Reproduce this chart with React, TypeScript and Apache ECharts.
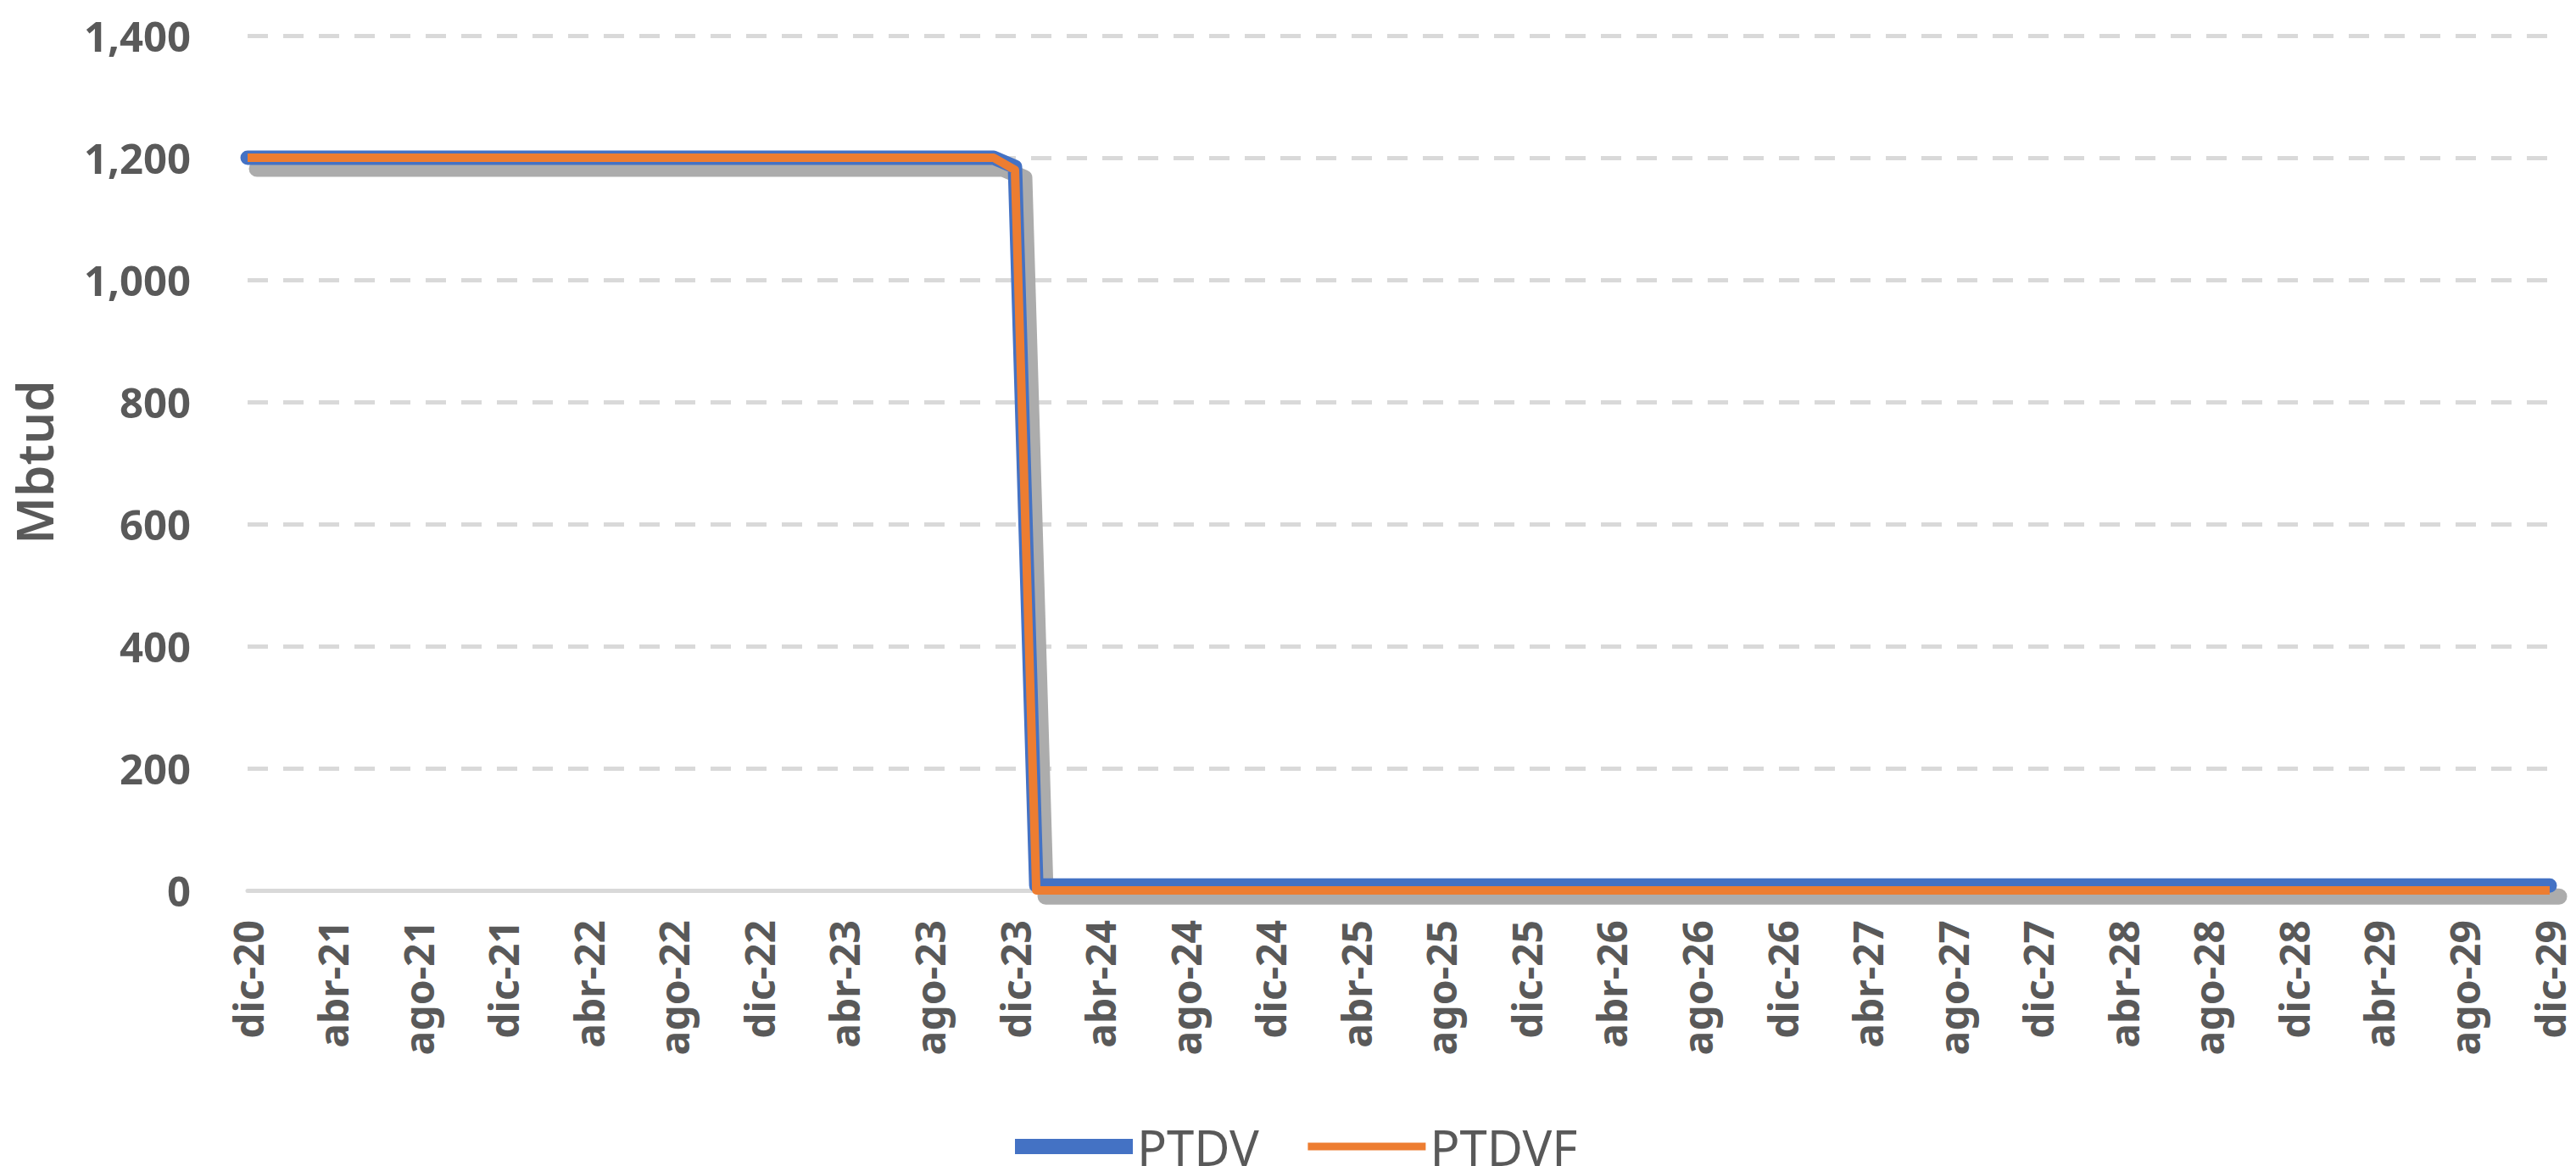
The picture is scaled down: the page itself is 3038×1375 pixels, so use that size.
import React, { useEffect, useRef } from "react";
import * as echarts from "echarts";

const monthNames = ["ene", "feb", "mar", "abr", "may", "jun", "jul", "ago", "sep", "oct", "nov", "dic"];
// Monthly categories dic-20 .. dic-29
const categories: string[] = ["dic-20"];
for (let y = 21; y <= 29; y++) {
  for (const m of monthNames) categories.push(`${m}-${y}`);
}

const yTicks = { min: 0, max: 1400, interval: 200 };

const ptdv: number[] = [
  1200,
  1200, 1200, 1200, 1200, 1200, 1200, 1200, 1200, 1200, 1200, 1200, 1200,
  1200, 1200, 1200, 1200, 1200, 1200, 1200, 1200, 1200, 1200, 1200, 1200,
  1200, 1200, 1200, 1200, 1200, 1200, 1200, 1200, 1200, 1200, 1200, 1185,
  8, 8, 8, 8, 8, 8, 8, 8, 8, 8, 8, 8,
  8, 8, 8, 8, 8, 8, 8, 8, 8, 8, 8, 8,
  8, 8, 8, 8, 8, 8, 8, 8, 8, 8, 8, 8,
  8, 8, 8, 8, 8, 8, 8, 8, 8, 8, 8, 8,
  8, 8, 8, 8, 8, 8, 8, 8, 8, 8, 8, 8,
  8, 8, 8, 8, 8, 8, 8, 8, 8, 8, 8, 8,
];

const ptdvf: number[] = [
  1200,
  1200, 1200, 1200, 1200, 1200, 1200, 1200, 1200, 1200, 1200, 1200, 1200,
  1200, 1200, 1200, 1200, 1200, 1200, 1200, 1200, 1200, 1200, 1200, 1200,
  1200, 1200, 1200, 1200, 1200, 1200, 1200, 1200, 1200, 1200, 1200, 1180,
  0, 0, 0, 0, 0, 0, 0, 0, 0, 0, 0, 0,
  0, 0, 0, 0, 0, 0, 0, 0, 0, 0, 0, 0,
  0, 0, 0, 0, 0, 0, 0, 0, 0, 0, 0, 0,
  0, 0, 0, 0, 0, 0, 0, 0, 0, 0, 0, 0,
  0, 0, 0, 0, 0, 0, 0, 0, 0, 0, 0, 0,
  0, 0, 0, 0, 0, 0, 0, 0, 0, 0, 0, 0,
];

const seriesNames = ["PTDV", "PTDVF"];
const seriesColors = ["#4472C4", "#ED7D31"];
const yTitle = "Mbtud";

const FONT = "'Noto Sans', 'Open Sans', sans-serif";
const TEXT = "#595959";
const GRID = "#D9D9D9";

const G = { left: 292, right: 31, top: 42, bottom: 325 };
const SH = { dx: 11, dy: 13 };

export default function App() {
  const ref = useRef<HTMLDivElement>(null);

  useEffect(() => {
    if (!ref.current) return;
    const chart = echarts.init(ref.current, undefined, { renderer: "svg" });
    chart.setOption({
      animation: false,
      backgroundColor: "#ffffff",
      textStyle: { fontFamily: FONT },
      grid: [
        { left: G.left, right: G.right, top: G.top, bottom: G.bottom, containLabel: false },
        {
          left: G.left + SH.dx,
          right: G.right - SH.dx,
          top: G.top + SH.dy,
          bottom: G.bottom - SH.dy,
          containLabel: false,
        },
      ],
      legend: {
        left: 1183,
        top: 1318,
        itemWidth: 139,
        itemHeight: 10,
        itemGap: 53,
        textStyle: { fontSize: 58, color: TEXT, fontFamily: FONT },
        data: [
          { name: seriesNames[0], lineStyle: { width: 18, cap: "butt" }, itemStyle: { opacity: 0 } },
          { name: seriesNames[1], lineStyle: { width: 9, cap: "butt" }, itemStyle: { opacity: 0 } },
        ],
      },
      graphic: [
        {
          type: "text",
          x: 40,
          y: 545,
          rotation: Math.PI / 2,
          style: {
            text: yTitle,
            fontSize: 60,
            fontWeight: 600,
            fontFamily: FONT,
            fill: TEXT,
            textAlign: "center",
            textVerticalAlign: "middle",
          },
        },
      ],
      xAxis: [
        {
          type: "category",
          data: categories,
          boundaryGap: false,
          gridIndex: 0,
          axisLine: { show: true, lineStyle: { color: GRID, width: 5 } },
          axisTick: { show: false },
          splitLine: { show: false },
          axisLabel: {
            interval: 3,
            rotate: 90,
            margin: 35,
            fontSize: 48,
            lineHeight: 48,
            fontWeight: "bold",
            color: TEXT,
            fontFamily: FONT,
          },
        },
        {
          type: "category",
          data: categories,
          boundaryGap: false,
          gridIndex: 1,
          axisLine: { show: false },
          axisTick: { show: false },
          axisLabel: { show: false },
          splitLine: { show: false },
        },
      ],
      yAxis: [
        {
          type: "value",
          min: yTicks.min,
          max: yTicks.max,
          interval: yTicks.interval,
          gridIndex: 0,
          axisLine: { show: false },
          axisTick: { show: false },
          splitLine: { show: true, lineStyle: { color: GRID, width: 5, type: [24, 18] } },
          axisLabel: {
            margin: 67,
            fontSize: 49,
            fontWeight: "bold",
            color: TEXT,
            fontFamily: FONT,
            formatter: (v: number) => v.toLocaleString("en-US"),
          },
        },
        {
          type: "value",
          min: yTicks.min,
          max: yTicks.max,
          interval: yTicks.interval,
          gridIndex: 1,
          axisLine: { show: false },
          axisTick: { show: false },
          axisLabel: { show: false },
          splitLine: { show: false },
        },
      ],
      series: [
        {
          name: "sombra",
          type: "line",
          xAxisIndex: 1,
          yAxisIndex: 1,
          data: ptdv,
          symbol: "none",
          showSymbol: false,
          clip: false,
          silent: true,
          z: 1,
          color: "#acacac",
          lineStyle: { color: "#acacac", width: 19, cap: "round", join: "round" },
        },
        {
          name: seriesNames[0],
          type: "line",
          xAxisIndex: 0,
          yAxisIndex: 0,
          data: ptdv,
          symbol: "none",
          showSymbol: false,
          clip: false,
          z: 2,
          color: seriesColors[0],
          lineStyle: { color: seriesColors[0], width: 17, cap: "round", join: "round" },
        },
        {
          name: seriesNames[1],
          type: "line",
          xAxisIndex: 0,
          yAxisIndex: 0,
          data: ptdvf,
          symbol: "none",
          showSymbol: false,
          clip: false,
          z: 3,
          color: seriesColors[1],
          lineStyle: { color: seriesColors[1], width: 10, cap: "butt", join: "round" },
        },
      ],
    });
    return () => chart.dispose();
  }, []);

  return (
    <div
      ref={ref}
      style={{ position: "fixed", left: 0, top: 0, width: 3038, height: 1375, background: "#fff" }}
    />
  );
}
